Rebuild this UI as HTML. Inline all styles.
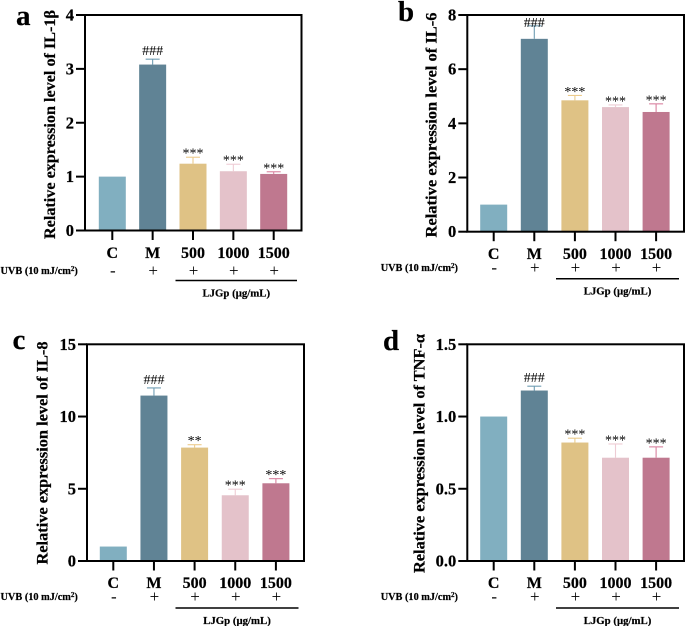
<!DOCTYPE html>
<html>
<head>
<meta charset="utf-8">
<title>Relative expression levels</title>
<style>
html,body{margin:0;padding:0;background:#fff;width:685px;height:626px;overflow:hidden}
svg{display:block;filter:blur(.35px)}
text{font-family:"Liberation Serif","Noto Serif CJK SC",serif;fill:#000}
text[font-weight="bold"]{stroke:#000;stroke-width:.22px}
</style>
</head>
<body>
<svg id="figure" width="685" height="626" viewBox="0 0 685 626" xmlns="http://www.w3.org/2000/svg"></svg>
<script>
const categories = ['C', 'M', '500', '1000', '1500'];
const uvbSigns = ['-', '+', '+', '+', '+'];
const barColors = ['#81afc0', '#608395', '#dfc285', '#e4c2ca', '#bf788f'];
const errColors = ['#81afc0', '#6f9db3', '#eccb8c', '#eeccd4', '#d9819f'];

const valuesA = [1, 3.08, 1.24, 1.10, 1.05];
const errorsA = [0, 0.10, 0.12, 0.13, 0.04];
const sigA = ['', '###', '***', '***', '***'];
const ticksA = ['0', '1', '2', '3', '4'];

const valuesB = [1, 7.12, 4.85, 4.60, 4.42];
const errorsB = [0, 0.48, 0.18, 0.08, 0.30];
const sigB = ['', '###', '***', '***', '***'];
const ticksB = ['0', '2', '4', '6', '8'];

const valuesC = [1, 11.45, 7.85, 4.55, 5.38];
const errorsC = [0, 0.53, 0.20, 0.42, 0.32];
const sigC = ['', '###', '**', '***', '***'];
const ticksC = ['0', '5', '10', '15'];

const valuesD = [1, 1.18, 0.82, 0.715, 0.715];
const errorsD = [0, 0.03, 0.03, 0.095, 0.075];
const sigD = ['', '###', '***', '***', '***'];
const ticksD = ['0.0', '0.5', '1.0', '1.5'];

const NS = 'http://www.w3.org/2000/svg';
const root = document.getElementById('figure');

function make(tag, parent, attrs, txt) {
  const el = document.createElementNS(NS, tag);
  for (const k in attrs) el.setAttribute(k, attrs[k]);
  if (txt !== undefined) el.textContent = txt;
  parent.appendChild(el);
  return el;
}

function drawPanel(p) {
  const g = make('g', root, {});
  
  

  const yMax = parseFloat(p.ticks[p.ticks.length - 1]);
  const yScale = v => p.bottom - (v / yMax) * (p.bottom - p.top);
  const xScale = i => p.x0 + i * p.step;

  const letter = make('text', g, {x: p.letterX, y: p.letterY, 'font-size': 29, 'font-weight': 'bold'}, p.id);
  
  

  const yTitle = make('text', g, {
    transform: 'translate(' + p.titleX + ',' + p.titleBottom + ') rotate(-90)',
    'font-size': 16, 'font-weight': 'bold',
    textLength: p.titleLen, lengthAdjust: 'spacingAndGlyphs'
  }, p.title);
  
  

  categories.forEach((c, i) => {
    const cx = xScale(i);
    const val = p.values[i];
    const err = p.errors[i];
    const yTop = yScale(val);
    const yErr = yScale(val + err);

    if (err > 0) {
      const stem = make('line', g, {x1: cx, x2: cx, y1: yTop, y2: yErr, stroke: errColors[i], 'stroke-width': 1.1});
      
      
      const cap = make('line', g, {x1: cx - 7, x2: cx + 7, y1: yErr, y2: yErr, stroke: errColors[i], 'stroke-width': 1.1});
      
      
    }

    const bar = make('rect', g, {x: cx - 13.5, y: yTop, width: 27, height: p.bottom - yTop, fill: barColors[i]});
    
    

    if (p.sig[i]) {
      const isHash = p.sig[i] === '###';
      const sig = make('text', g, {
        x: cx, y: isHash ? yErr - 4 + p.hashShift : yErr + 0.5,
        'font-size': 14, 'text-anchor': 'middle'
      }, p.sig[i]);
      
      
    }

    const tick = make('line', g, {x1: cx, x2: cx, y1: p.bottom, y2: p.bottom + 9.5, stroke: '#000', 'stroke-width': 2});
    
    

    const label = make('text', g, {x: cx, y: p.catY, 'font-size': 16, 'font-weight': 'bold', 'text-anchor': 'middle'}, c);
    
    

    const sign = make('text', g, {x: cx + 0.5, y: p.uvbY + 5, 'font-size': 17, 'text-anchor': 'middle'}, uvbSigns[i]);
    
    
  });

  p.ticks.forEach(t => {
    const y = yScale(parseFloat(t));
    const tick = make('line', g, {x1: p.left - 9, x2: p.left, y1: y, y2: y, stroke: '#000', 'stroke-width': 2});
    
    
    const label = make('text', g, {x: p.left - 11, y: y + 5.5, 'font-size': 16.5, 'font-weight': 'bold', 'text-anchor': 'end'}, t);
    
    
  });

  const frame = make('rect', g, {x: p.left, y: p.top, width: p.right - p.left, height: p.bottom - p.top, fill: 'none', stroke: '#000', 'stroke-width': 2});
  
  

  const uvb = make('text', g, {x: p.uvbX, y: p.uvbY + 3, 'font-size': 10.3, 'font-weight': 'bold'});
  
  
  make('tspan', uvb, {}, 'UVB (10 mJ/cm');
  make('tspan', uvb, {dy: -3, 'font-size': 7}, '2');
  make('tspan', uvb, {dy: 3}, ')');

  const bracket = make('line', g, {x1: p.lineX1, x2: p.lineX2, y1: p.lineY, y2: p.lineY, stroke: '#000', 'stroke-width': 1.5});
  
  

  const dose = make('text', g, {x: (p.lineX1 + p.lineX2) / 2, y: p.lineY + 16, 'font-size': 10.8, 'font-weight': 'bold', 'text-anchor': 'middle'}, 'LJGp (μg/mL)');
  
  
}

drawPanel({id: 'a', title: 'Relative expression level of IL-1β', values: valuesA, errors: errorsA, sig: sigA, ticks: ticksA, hashShift: 0,
  left: 85, right: 301.5, top: 15, bottom: 230.5, x0: 112.3, step: 40.35, letterX: 16, letterY: 25,
  titleX: 55, titleBottom: 239, titleLen: 229, catY: 258, uvbX: 0.5, uvbY: 271, lineX1: 175.5, lineX2: 297, lineY: 280.5});

drawPanel({id: 'b', title: 'Relative expression level of IL-6', values: valuesB, errors: errorsB, sig: sigB, ticks: ticksB, hashShift: 5,
  left: 467.3, right: 684, top: 15, bottom: 231.7, x0: 493.7, step: 40.6, letterX: 398, letterY: 21,
  titleX: 436.5, titleBottom: 237.5, titleLen: 225, catY: 259, uvbX: 380.7, uvbY: 268, lineX1: 556, lineX2: 679, lineY: 278.7});

drawPanel({id: 'c', title: 'Relative expression level of IL-8', values: valuesC, errors: errorsC, sig: sigC, ticks: ticksC, hashShift: 0,
  left: 87, right: 304, top: 344.3, bottom: 561, x0: 113.3, step: 40.65, letterX: 12.5, letterY: 349,
  titleX: 47.5, titleBottom: 564.5, titleLen: 223, catY: 588, uvbX: 0.5, uvbY: 597, lineX1: 175.5, lineX2: 298.5, lineY: 608});

drawPanel({id: 'd', title: 'Relative expression level of TNF-α', values: valuesD, errors: errorsD, sig: sigD, ticks: ticksD, hashShift: 0,
  left: 467.3, right: 684, top: 344.3, bottom: 561, x0: 493.7, step: 40.6, letterX: 383, letterY: 350,
  titleX: 424.5, titleBottom: 573, titleLen: 239, catY: 588, uvbX: 380.7, uvbY: 597, lineX1: 556, lineX2: 679, lineY: 608});
</script>
</body>
</html>
